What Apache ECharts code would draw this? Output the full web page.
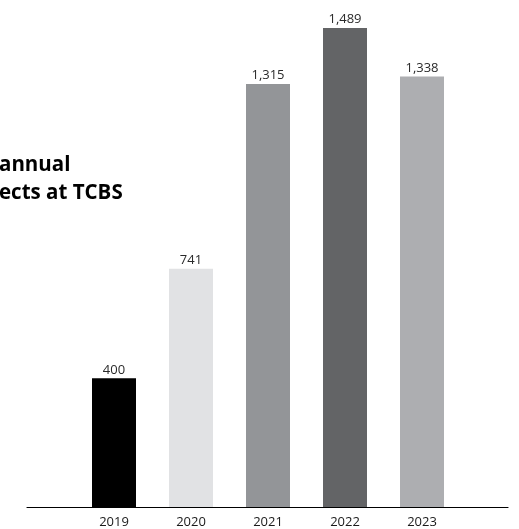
<!DOCTYPE html>
<html>
<head>
<meta charset="utf-8">
<script src="https://cdn.jsdelivr.net/npm/echarts@6/dist/echarts.min.js"></script>
<style>
  html, body { margin: 0; padding: 0; background: #fff; }
  #chart { width: 519px; height: 529px; }
</style>
</head>
<body>
<div id="chart"></div>
<script>
var years = ['2019', '2020', '2021', '2022', '2023'];
var projects = [400, 741, 1315, 1489, 1338];
var barColors = ['#000000', '#e1e2e4', '#939598', '#636466', '#adaeb1'];
var titleLines = ['annual', 'ects at TCBS'];

var myChart = echarts.init(document.getElementById('chart'));

var option = {
    animation: false,
    title: {
        text: titleLines.join('\n'),
        left: -1,
        top: 151,
        padding: 0,
        textStyle: {
            fontFamily: 'Open Sans',
            fontWeight: 'bold',
            fontSize: 20.5,
            lineHeight: 28,
            color: '#000'
        }
    },
    grid: [
        // bars
        { left: 75.5, right: 58.5, top: 10, bottom: 22 },
        // long baseline
        { left: 27, right: 11, top: 10, bottom: 22 }
    ],
    xAxis: [
        {
            type: 'category',
            gridIndex: 0,
            data: years,
            axisLine: { show: false },
            axisTick: { show: false },
            axisLabel: {
                margin: 9,
                fontFamily: 'Open Sans',
                fontSize: 13,
                color: '#1a1a1a'
            }
        },
        {
            type: 'category',
            gridIndex: 1,
            data: [''],
            axisLine: { show: true, lineStyle: { color: '#000', width: 1.2 } },
            axisTick: { show: false },
            axisLabel: { show: false }
        }
    ],
    yAxis: [
        {
            type: 'value',
            gridIndex: 0,
            min: 0,
            max: 1545,
            show: false,
            splitLine: { show: false }
        },
        {
            type: 'value',
            gridIndex: 1,
            show: false,
            splitLine: { show: false }
        }
    ],
    series: [
        {
            type: 'bar',
            xAxisIndex: 0,
            yAxisIndex: 0,
            barWidth: 44,
            data: projects.map(function (v, i) {
                return { value: v, itemStyle: { color: barColors[i] } };
            }),
            label: {
                show: true,
                position: 'top',
                distance: 2,
                fontFamily: 'Open Sans',
                fontSize: 13,
                color: '#2a2a2a',
                formatter: function (p) {
                    return p.value.toLocaleString('en-US');
                }
            }
        }
    ]
};

myChart.setOption(option);
</script>
</body>
</html>
